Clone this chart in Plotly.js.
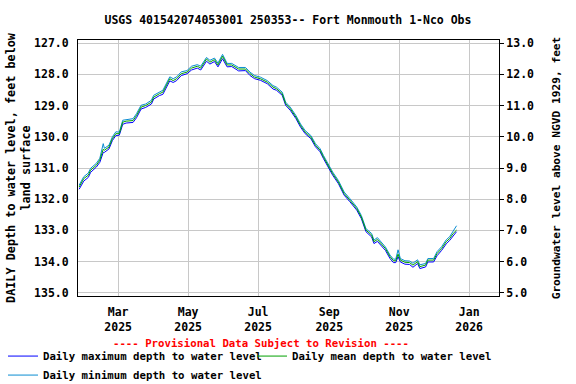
<!DOCTYPE html>
<html>
<head>
<meta charset="utf-8">
<script src="https://cdn.plot.ly/plotly-3.0.1.min.js"></script>
<style>html,body{margin:0;padding:0;background:#fff;}#chart{width:576px;height:384px;}</style>
</head>
<body>
<div id="chart"></div>
<script>
const dates = [
'2025-01-26','2025-01-30','2025-02-03','2025-02-05','2025-02-10','2025-02-13','2025-02-16','2025-02-17','2025-02-21','2025-02-24','2025-02-27',
'2025-03-02','2025-03-05','2025-03-08','2025-03-14','2025-03-17','2025-03-21','2025-03-25','2025-03-30',
'2025-04-01','2025-04-06','2025-04-09','2025-04-15','2025-04-18','2025-04-21','2025-04-25','2025-04-30',
'2025-05-04','2025-05-09','2025-05-12','2025-05-17','2025-05-20','2025-05-24','2025-05-27','2025-05-31',
'2025-06-04','2025-06-08','2025-06-14','2025-06-20','2025-06-24','2025-06-28',
'2025-07-03','2025-07-09','2025-07-14','2025-07-17','2025-07-22','2025-07-25','2025-07-29',
'2025-08-03','2025-08-07','2025-08-11','2025-08-16','2025-08-20','2025-08-24','2025-08-27',
'2025-09-01','2025-09-04','2025-09-09','2025-09-14','2025-09-19','2025-09-25','2025-09-29',
'2025-10-03','2025-10-08','2025-10-10','2025-10-13','2025-10-16','2025-10-20','2025-10-24','2025-10-27','2025-10-29','2025-10-31',
'2025-11-02','2025-11-06','2025-11-10','2025-11-13','2025-11-17','2025-11-19','2025-11-24','2025-11-26',
'2025-12-01','2025-12-04','2025-12-08','2025-12-12','2025-12-15','2025-12-18','2025-12-21'
];
const meanDepth = [
131.61,131.34,131.23,131.07,130.91,130.75,130.40,130.43,130.33,130.06,129.90,
129.90,129.53,129.50,129.48,129.32,129.05,129.00,128.89,
128.73,128.62,128.57,128.14,128.20,128.14,127.98,127.93,
127.80,127.74,127.80,127.51,127.61,127.53,127.70,127.42,
127.70,127.70,127.83,127.83,127.98,128.09,
128.14,128.25,128.41,128.46,128.62,128.94,129.10,
129.37,129.64,129.85,130.01,130.27,130.43,130.65,
130.97,131.18,131.45,131.82,132.03,132.30,132.57,
132.99,133.15,133.36,133.29,133.42,133.58,133.84,133.97,133.97,133.76,
133.95,134.02,134.03,134.11,134.00,134.16,134.11,133.95,
133.95,133.74,133.58,133.36,133.26,133.10,132.99
];
const maxDepth = [
131.68,131.42,131.30,131.14,130.97,130.82,130.50,130.50,130.39,130.12,129.96,
129.95,129.60,129.56,129.54,129.39,129.11,129.06,128.95,
128.79,128.68,128.64,128.21,128.26,128.20,128.04,127.98,
127.86,127.80,127.86,127.58,127.67,127.59,127.76,127.50,
127.76,127.75,127.89,127.88,128.04,128.14,
128.19,128.30,128.47,128.51,128.67,128.99,129.15,
129.42,129.69,129.90,130.06,130.32,130.48,130.70,
131.02,131.23,131.50,131.87,132.08,132.35,132.62,
133.04,133.21,133.42,133.35,133.48,133.64,133.90,134.03,134.03,133.84,
134.01,134.08,134.09,134.18,134.06,134.22,134.17,134.01,
134.01,133.81,133.64,133.43,133.32,133.16,133.04
];
const minDepth = [
131.55,131.28,131.16,131.01,130.85,130.69,130.22,130.37,130.27,130.00,129.84,
129.85,129.47,129.45,129.42,129.26,128.99,128.95,128.83,
128.67,128.56,128.51,128.08,128.14,128.08,127.92,127.88,
127.74,127.69,127.74,127.46,127.55,127.48,127.64,127.36,
127.65,127.65,127.78,127.78,127.93,128.04,
128.09,128.20,128.36,128.41,128.57,128.89,129.05,
129.32,129.59,129.80,129.96,130.22,130.38,130.60,
130.92,131.13,131.40,131.77,131.98,132.25,132.52,
132.94,133.10,133.31,133.23,133.37,133.53,133.79,133.92,133.92,133.62,
133.90,133.97,133.98,134.05,133.94,134.10,134.06,133.90,
133.90,133.68,133.52,133.30,133.20,133.04,132.85
];
// Land-surface datum: groundwater level (ft NGVD 1929) = datum - depth
const landSurfaceDatum = 140.0;
const seriesNames = ['Daily maximum depth to water level','Daily mean depth to water level','Daily minimum depth to water level'];
const seriesColors = ['#0000FF','#00A000','#0A8CD2'];
const titleText = 'USGS 401542074053001 250353-- Fort Monmouth 1-Nco Obs';
const leftTitle = 'DAILY Depth to water level, feet below<br>land surface';
const rightTitle = 'Groundwater level above NGVD 1929, feet';
const provisional = '---- Provisional Data Subject to Revision ----';

const F = 'DejaVu Sans Mono, monospace';
const baseFont = {family: F, size: 11.5, color: '#000', weight: 'bold'};

const traces = [
  {x: dates, y: maxDepth, name: seriesNames[0], type: 'scatter', mode: 'lines', line: {color: seriesColors[0], width: 1}, legendrank: 1},
  {x: dates, y: minDepth, name: seriesNames[2], type: 'scatter', mode: 'lines', line: {color: seriesColors[2], width: 1}, legendrank: 3},
  {x: dates, y: meanDepth, name: seriesNames[1], type: 'scatter', mode: 'lines', line: {color: seriesColors[1], width: 1}, legendrank: 2},
  // same mean series expressed as elevation on the right axis (invisible; keeps right axis drawn)
  {x: dates, y: meanDepth.map(d => landSurfaceDatum - d), yaxis: 'y2', type: 'scatter', mode: 'lines',
   line: {color: 'rgba(0,0,0,0)', width: 0}, showlegend: false, hoverinfo: 'skip'}
];

const layout = {
  width: 576, height: 384,
  margin: {l: 78, r: 77, t: 40, b: 88, autoexpand: false},
  paper_bgcolor: '#fff', plot_bgcolor: '#fff',
  font: baseFont,
  title: {text: titleText, font: {family: F, size: 11.5, weight: 'bold', color: '#000'}, x: 0.5, xref: 'container', y: 1 - 19.5/384, yref: 'container', yanchor: 'middle'},
  showlegend: true,
  legend: {orientation: 'h', x: -75/421, xanchor: 'left', y: -0.178, yanchor: 'top', entrywidth: 204, entrywidthmode: 'pixels',
           font: {family: F, size: 10.7, weight: 'bold', color: '#000'}, traceorder: 'normal', bgcolor: 'rgba(0,0,0,0)'},
  xaxis: {
    type: 'date', range: ['2025-01-25', '2026-01-27'],
    tick0: '2025-01-01', dtick: 'M2', tickformat: '%b<br>%Y',
    showgrid: true, gridcolor: '#c8c8c8', gridwidth: 1,
    showline: true, linecolor: '#000', linewidth: 1, mirror: true,
    ticks: '', zeroline: false, tickfont: baseFont, ticklabelstandoff: 5
  },
  yaxis: {
    range: [135.1, 126.9], dtick: 1, tick0: 127, tickformat: '.1f',
    showgrid: true, gridcolor: '#c8c8c8', gridwidth: 1,
    showline: true, linecolor: '#000', linewidth: 1, mirror: true,
    ticks: '', zeroline: false, tickfont: baseFont, ticklabelstandoff: 6,
    title: {text: leftTitle, font: {family: F, size: 11.8, weight: 'bold', color: '#000'}, standoff: 0}
  },
  yaxis2: {
    overlaying: 'y', side: 'right', anchor: 'x',
    range: [4.9, 13.1], dtick: 1, tick0: 5, tickformat: '.1f',
    showgrid: false, zeroline: false, showline: false,
    ticks: 'outside', ticklen: 4, tickcolor: '#000', tickfont: baseFont,
    title: {text: rightTitle, font: {family: F, size: 11.2, weight: 'bold', color: '#000'}, standoff: 19}
  },
  annotations: [{
    text: provisional, xref: 'paper', yref: 'paper', x: (261 - 78)/421, y: 1 - (343 - 40)/256,
    xanchor: 'center', yanchor: 'middle', showarrow: false,
    font: {family: F, size: 10.7, weight: 'bold', color: '#FF0000'}
  }]
};

Plotly.newPlot('chart', traces, layout, {displayModeBar: false, staticPlot: true});
</script>
</body>
</html>
